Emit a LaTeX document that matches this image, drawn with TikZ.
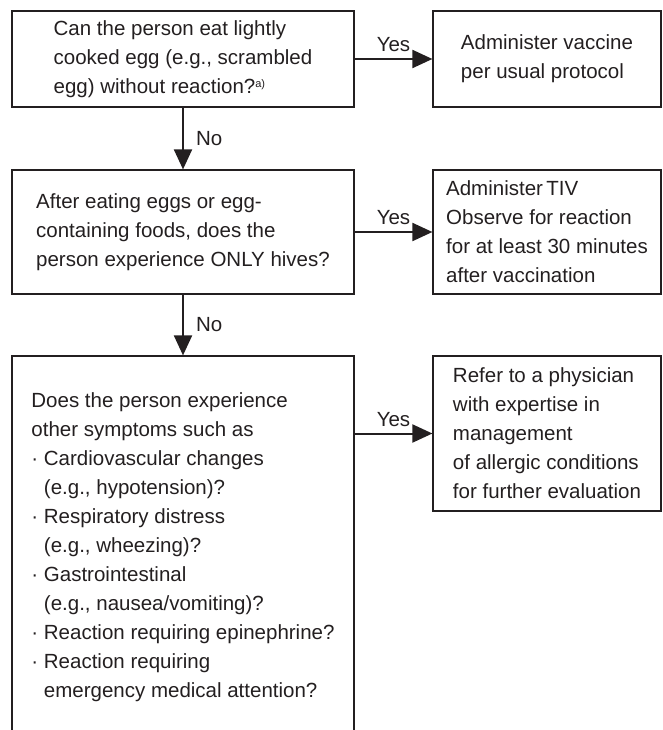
\documentclass[tikz,border=0pt]{standalone}
\usepackage{fontspec}
\setmainfont{Liberation Sans}
\usepackage{xcolor}
\usetikzlibrary{positioning}
\usetikzlibrary{arrows.meta}
\definecolor{ink}{RGB}{35,31,32}
\newcommand{\indnt}{\hphantom{·\ }}

\begin{document}
\begin{tikzpicture}[x=1pt,y=-1pt,
    box/.style={draw=ink,text=ink,line width=1.2pt,align=left,inner sep=0pt,
        font=\fontsize{20.5}{29}\selectfont},
    qbox/.style={box,minimum width=342pt},
    abox/.style={box,minimum width=228pt},
    flow/.style={draw=ink,line width=2pt,-{Triangle[length=20pt,width=18pt]}},
    lab/.style={text=ink,inner sep=2pt,font=\fontsize{20.5}{29}\selectfont}]
    \useasboundingbox (0,0) rectangle (662,730);
    % questions on the left
    \node[qbox,minimum height=96pt] (egg) at (183,59)
        {Can the person eat lightly\\cooked egg (e.g., scrambled\\egg) without reaction?\raisebox{6pt}{\fontsize{11}{11}\selectfont a)}};
    \node[qbox,minimum height=124pt] (hives) at (183,232)
        {After eating eggs or egg-\\containing foods, does the\\person experience ONLY hives?};
    \node[qbox,minimum height=382pt] (other) at (183,547)
        {Does the person experience\\other symptoms such as\\
        · Cardiovascular changes\\\indnt(e.g., hypotension)?\\
        · Respiratory distress\\\indnt(e.g., wheezing)?\\
        · Gastrointestinal\\\indnt(e.g., nausea/vomiting)?\\
        · Reaction requiring epinephrine?\\
        · Reaction requiring\\\indnt emergency medical attention?};
    % actions on the right
    \node[abox,minimum height=96pt] (usual) at (547,59)
        {Administer vaccine\\per usual protocol};
    \node[abox,minimum height=124pt] (tiv) at (547,232)
        {Administer\,TIV\\Observe for reaction\\for at least 30 minutes\\after vaccination};
    \node[abox,minimum height=155pt] (refer) at (547,433.5)
        {Refer to a physician\\with expertise in\\management\\of allergic conditions\\for further evaluation};
    % Yes
    \draw[flow] (egg) -- node[lab,above=4pt]{Yes} (usual);
    \draw[flow] (hives) -- node[lab,above=4pt]{Yes} (tiv);
    \draw[flow] (other.east |- refer.west) -- node[lab,above=4pt]{Yes} (refer.west);
    % No
    \draw[flow] (egg) -- node[lab,right=10pt]{No} (hives);
    \draw[flow] (hives) -- node[lab,right=10pt]{No} (other);
\end{tikzpicture}
\end{document}
